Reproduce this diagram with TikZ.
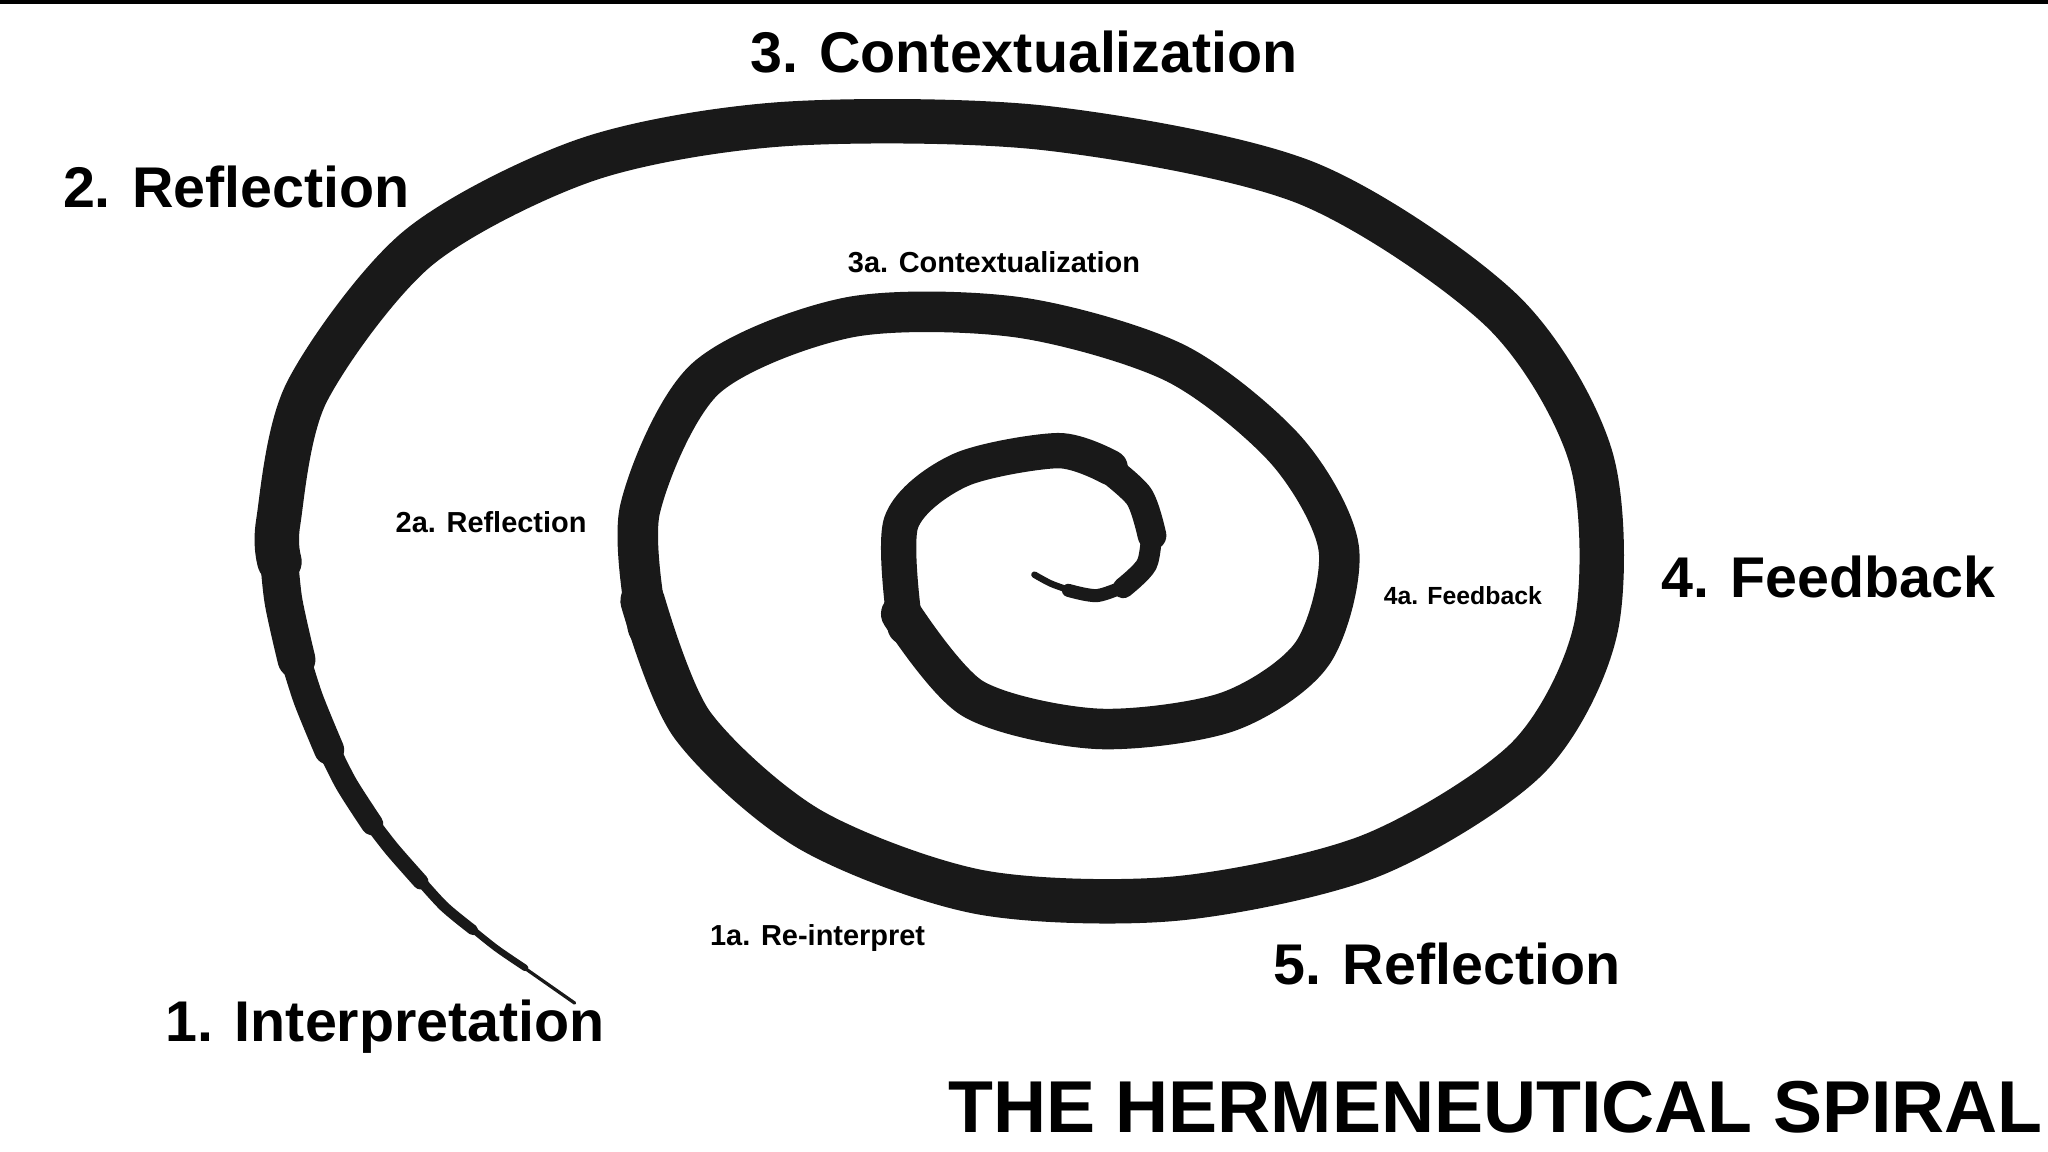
\documentclass[tikz,border=0pt]{standalone}
\usepackage{fontspec}
\setmainfont{Liberation Sans}
\begin{document}
\begin{tikzpicture}[x=0.01cm,y=-0.01cm,
  big/.style={font=\bfseries\fontsize{12.5pt}{14pt}\selectfont},
  small/.style={font=\bfseries\fontsize{6.3pt}{7pt}\selectfont},
  tiny/.style={font=\bfseries\fontsize{5.4pt}{6pt}\selectfont},
  arm/.style={draw=black!90,line cap=round,line join=round}]
\useasboundingbox (0,0) rectangle (1568,882);
\fill[white] (0,0) rectangle (1568,882);
\draw[line width=1.2pt] (0,1) -- (1568,1);
% spiral
\draw[arm,line width=0.025cm] plot[smooth] coordinates {(440,768) (420,754) (400,740)};
\draw[arm,line width=0.05cm] plot[smooth] coordinates {(402,741) (380,726) (360,710)};
\draw[arm,line width=0.08cm] plot[smooth] coordinates {(362,712) (340,694) (320,672)};
\draw[arm,line width=0.12cm] plot[smooth] coordinates {(322,675) (300,650) (283,628)};
\draw[arm,line width=0.17cm] plot[smooth] coordinates {(285,631) (265,600) (250,570)};
\draw[arm,line width=0.23cm] plot[smooth] coordinates {(252,574) (236,535) (225,500)};
\draw[arm,line width=0.29cm] plot[smooth] coordinates {(227,505) (217,460) (213,420)};
\draw[arm,line width=0.34cm] plot[smooth] coordinates {(214,430) (213,400) (235,300) (320,190) (450,122) (600,95) (800,98) (1000,140) (1150,238) (1218,350) (1222,480) (1170,580) (1050,655) (900,688) (750,683) (620,635) (530,555) (492,460)};
\draw[arm,line width=0.31cm] plot[smooth] coordinates {(496,480) (490,390) (540,290) (650,243) (780,243) (900,278) (985,345) (1025,420) (1005,500) (940,545) (840,558) (745,535) (690,470)};
\draw[arm,line width=0.27cm] plot[smooth] coordinates {(693,480) (690,400) (735,360) (810,345) (850,358)};
\draw[arm,line width=0.22cm] plot[smooth] coordinates {(845,356) (872,380) (882,410)};
\draw[arm,line width=0.16cm] plot[smooth] coordinates {(882,405) (878,432) (860,450)};
\draw[arm,line width=0.1cm] plot[smooth] coordinates {(863,448) (840,456) (818,452)};
\draw[arm,line width=0.05cm] plot[smooth] coordinates {(822,453) (805,447) (792,440)};
% labels
\node[big] (l3) at (784,40) {3. Contextualization};
\node[big] (l2) at (181,143) {2. Reflection};
\node[small] (l3a) at (761,201) {3a. Contextualization};
\node[small] (l2a) at (376,400) {2a. Reflection};
\node[tiny] (l4a) at (1120,456) {4a. Feedback};
\node[big] (l4) at (1400,442) {4. Feedback};
\node[small] (l1a) at (626,718) {1a. Re-interpret};
\node[big] (l5) at (1108,738) {5. Reflection};
\node[big] (l1) at (295,786) {1. Interpretation};
\node[font=\bfseries\fontsize{16pt}{18pt}\selectfont] (t) at (1145,848) {THE HERMENEUTICAL SPIRAL};
\end{tikzpicture}
\end{document}
